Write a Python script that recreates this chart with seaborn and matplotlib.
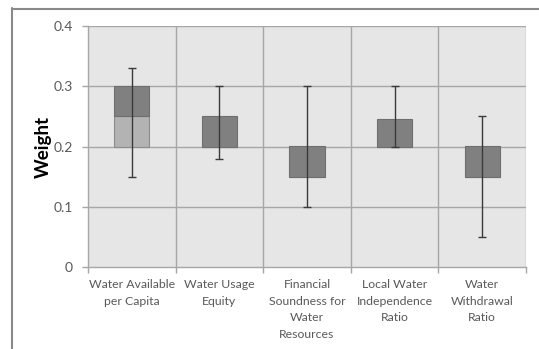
import matplotlib
matplotlib.use("Agg")
import matplotlib.pyplot as plt
from matplotlib.lines import Line2D
import seaborn as sns
import pandas as pd

categories = [
    "Water Available\nper Capita",
    "Water Usage\nEquity",
    "Financial\nSoundness for\nWater\nResources",
    "Local Water\nIndependence\nRatio",
    "Water\nWithdrawal\nRatio",
]
low = [0.15, 0.18, 0.10, 0.20, 0.05]
q1 = [0.20, 0.20, 0.15, 0.20, 0.15]
median = [0.25, 0.20, 0.15, 0.20, 0.15]
q3 = [0.30, 0.25, 0.20, 0.245, 0.20]
high = [0.33, 0.30, 0.30, 0.30, 0.25]
y_ticks = [0, 0.1, 0.2, 0.3, 0.4]
y_tick_labels = ["0", "0.1", "0.2", "0.3", "0.4"]

df = pd.DataFrame({"category": categories, "low": low, "q1": q1,
                   "median": median, "q3": q3, "high": high})
df["lower_box"] = df["median"] - df["q1"]
df["upper_box"] = df["q3"] - df["median"]

sns.set_theme(style="white")
plt.rcParams["font.family"] = ["Lato", "DejaVu Sans"]

fig = plt.figure(figsize=(5.39, 3.49), dpi=100)
ax = fig.add_axes([88 / 539, 1 - 267 / 349, (526 - 88) / 539, (267 - 26) / 349])
ax.set_facecolor("#e6e6e6")

grid_c = "#a6a6a6"
x = range(len(df))
box_w = 0.4
ax.bar(x, df["lower_box"], bottom=df["q1"], width=box_w, color="#b3b3b3",
       edgecolor="#8c8c8c", linewidth=0.8, zorder=3)
ax.bar(x, df["upper_box"], bottom=df["median"], width=box_w, color="#808080",
       edgecolor="#6e6e6e", linewidth=0.8, zorder=3)
ax.errorbar(x, df["median"],
            yerr=[df["median"] - df["low"], df["high"] - df["median"]],
            fmt="none", ecolor="#3a3a3a", elinewidth=1.0, capsize=3,
            capthick=1.0, zorder=4)

ax.set_xlim(-0.5, len(df) - 0.5)
ax.set_ylim(0, 0.4)
ax.set_yticks(y_ticks)
ax.set_yticklabels(y_tick_labels)
for yv in y_ticks[1:]:
    ax.axhline(yv, color=grid_c, linewidth=1.0, zorder=1)
for xv in [i - 0.5 for i in range(1, len(df) + 1)]:
    ax.axvline(xv, color=grid_c, linewidth=1.0, zorder=1)

ax.set_xticks(list(x))
ax.set_xticklabels(df["category"], color="#595959", fontsize=8.8,
                   linespacing=1.6, va="top")
ax.tick_params(axis="x", length=0, pad=9)
ax.tick_params(axis="y", length=4, width=1, color=grid_c, direction="out",
               labelsize=10, pad=7, left=True)
ax.tick_params(axis="y", labelcolor="#595959")
# minor ticks on category boundaries below the axis
ax.set_xticks([i - 0.5 for i in range(len(df) + 1)], minor=True)
ax.tick_params(axis="x", which="minor", length=4, width=1, color=grid_c,
               direction="out", bottom=True)

for s in ["left", "bottom"]:
    ax.spines[s].set_color(grid_c)
    ax.spines[s].set_linewidth(1.0)
for s in ["top", "right"]:
    ax.spines[s].set_visible(False)

ax.set_ylabel("Weight", fontsize=13.5, fontweight="bold", color="black",
              labelpad=1)

# chart frame
fig.add_artist(Line2D([12.5 / 539, 12.5 / 539], [0, 1 - 8 / 349],
                      transform=fig.transFigure, color="#8a8a8a", lw=1.5))
fig.add_artist(Line2D([12 / 539, 1], [1 - 8.5 / 349, 1 - 8.5 / 349],
                      transform=fig.transFigure, color="#8a8a8a", lw=1.5))

fig.savefig("out.png", dpi=100)
